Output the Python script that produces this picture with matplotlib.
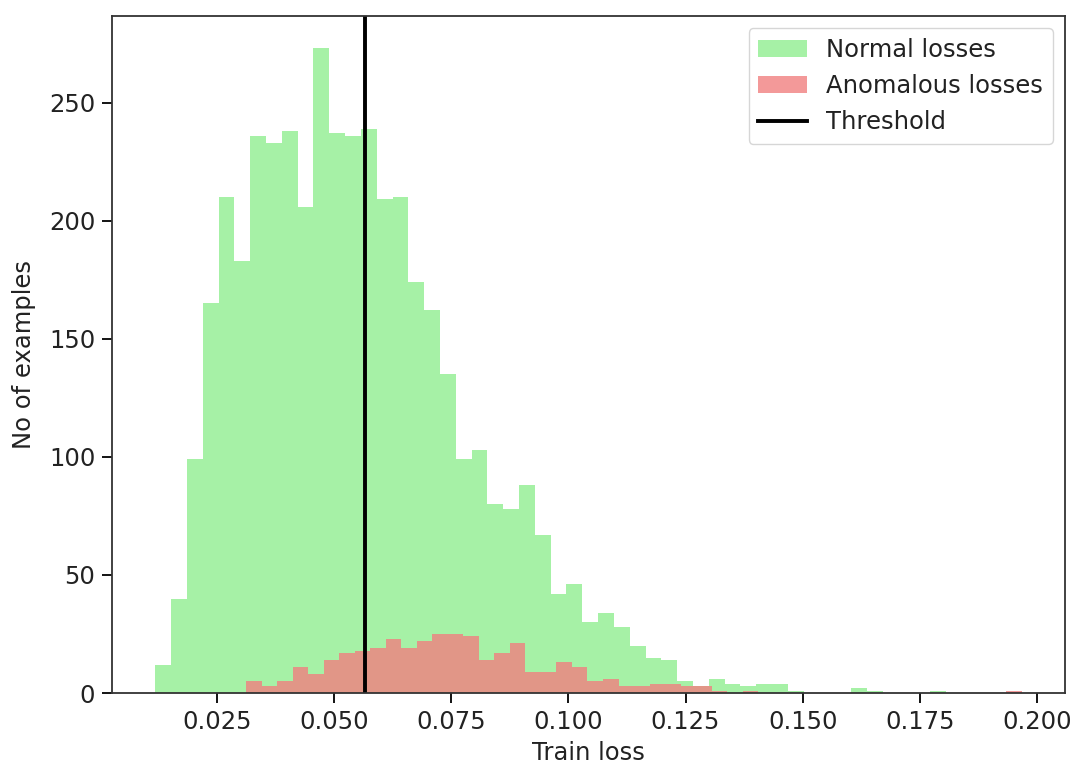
import numpy as np
import matplotlib.pyplot as plt

# histogram counts, 50 bins each
normal_counts = [12, 40, 99, 165, 210, 183, 236, 233, 238, 206,
                 273, 237, 236, 239, 209, 210, 174, 162, 135, 99,
                 103, 80, 78, 88, 67, 42, 46, 30, 34, 28,
                 20, 15, 14, 5, 3, 6, 4, 3, 4, 4,
                 1, 0, 0, 0, 2, 1, 0, 0, 0, 1]
anomalous_counts = [5, 3, 5, 11, 8, 14, 17, 18, 19, 23,
                    19, 22, 25, 25, 24, 14, 17, 21, 9, 9,
                    13, 11, 5, 6, 3, 3, 4, 4, 3, 3,
                    1, 0, 1, 0, 0, 0, 0, 0, 0, 0,
                    0, 0, 0, 0, 0, 0, 0, 0, 0, 1]
normal_range = (0.0118, 0.1806)
anomalous_range = (0.0312, 0.1968)
threshold = 0.0566

plt.rcParams['font.size'] = 17.5
plt.rcParams['text.color'] = '#222222'
plt.rcParams['axes.labelcolor'] = '#222222'
plt.rcParams['xtick.labelcolor'] = '#222222'
plt.rcParams['ytick.labelcolor'] = '#222222'

normal_edges = np.linspace(normal_range[0], normal_range[1], len(normal_counts) + 1)
anomalous_edges = np.linspace(anomalous_range[0], anomalous_range[1], len(anomalous_counts) + 1)

fig = plt.figure(figsize=(10.77, 7.65), dpi=100)
ax = fig.add_axes([0.104, 0.094, 0.885, 0.885])

ax.hist(normal_edges[:-1], bins=normal_edges, weights=normal_counts,
        color='lightgreen', alpha=0.8, label='Normal losses')
ax.hist(anomalous_edges[:-1], bins=anomalous_edges, weights=anomalous_counts,
        color='lightcoral', alpha=0.8, label='Anomalous losses')
ax.axvline(threshold, color='black', linewidth=2.8, label='Threshold')

ax.set_xticks([0.025, 0.050, 0.075, 0.100, 0.125, 0.150, 0.175, 0.200])
ax.set_xticklabels(['0.025', '0.050', '0.075', '0.100', '0.125', '0.150', '0.175', '0.200'])
ax.set_xlabel('Train loss', labelpad=5)
ax.set_ylabel('No of examples', labelpad=9)
ax.tick_params(length=7, width=1.3, pad=5)
for s in ax.spines.values():
    s.set_linewidth(1.3)
    s.set_color('#333333')
ax.legend(loc='upper right')

plt.savefig('out.png')
